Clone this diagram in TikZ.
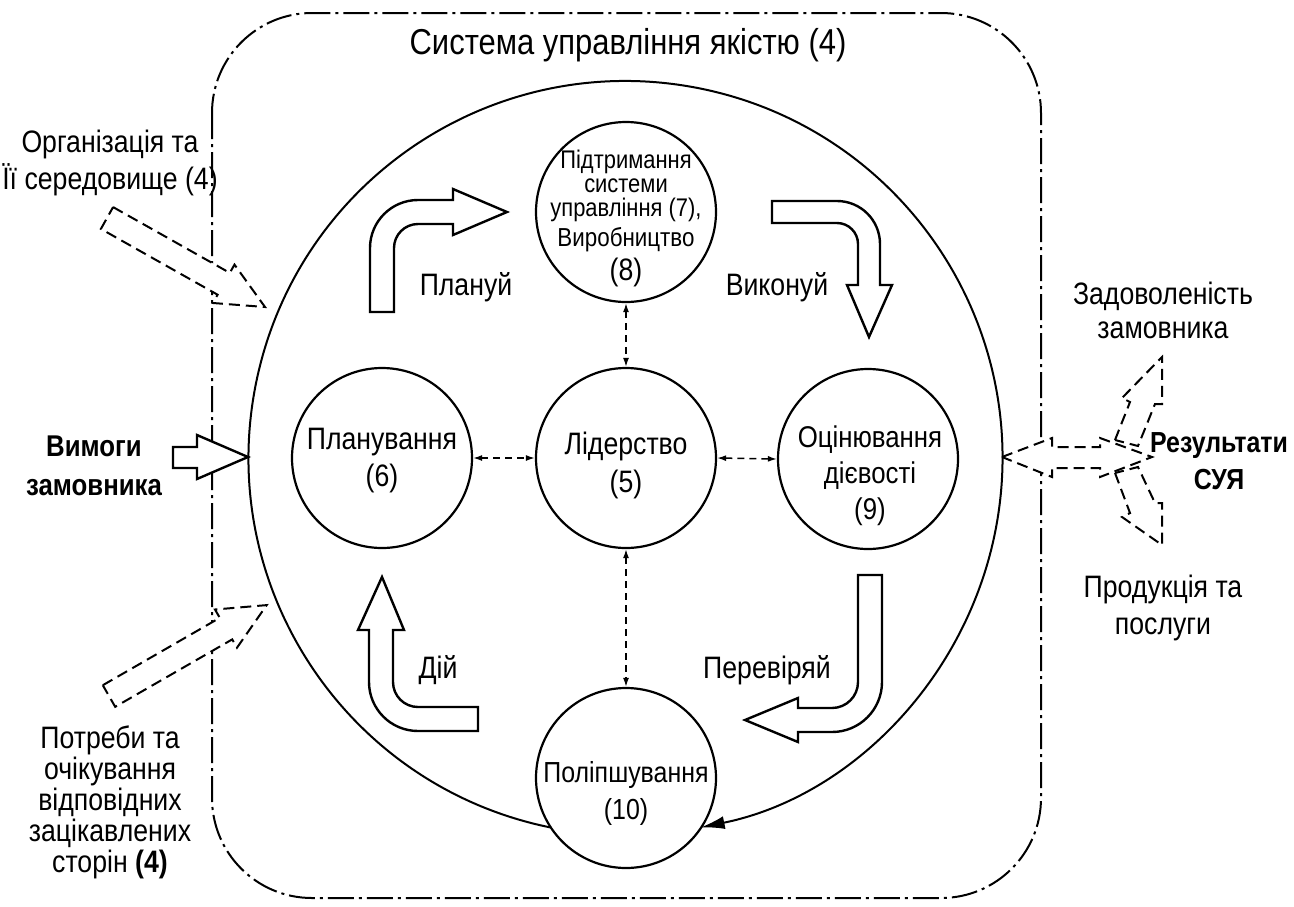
\documentclass[tikz,border=0pt]{standalone}
\usepackage{fontspec}
\setmainfont{Liberation Sans}[FakeStretch=0.86]
\usetikzlibrary{arrows.meta}
\begin{document}
\begin{tikzpicture}[x=1pt,y=-1pt,
  circ/.style={circle, draw, line width=2.2pt, minimum size=180pt, inner sep=0pt},
  lbl/.style={align=center, inner sep=0pt, font=\fontsize{31}{37}\selectfont},
  blockarrow/.style={draw, line width=2.4pt, fill=white, line join=miter},
  dasharrow/.style={draw, line width=2pt, fill=white, dash pattern=on 11pt off 6pt},
  link/.style={line width=1.5pt, dash pattern=on 7pt off 5pt, {Latex[length=9pt,width=6pt]}-{Latex[length=9pt,width=6pt]}},
  frame/.style={line width=2pt, dash pattern=on 26pt off 5pt on 3pt off 5pt},
  ring/.style={line width=2pt, -{Latex[length=24pt,width=13pt]}}
]
\useasboundingbox (0,0) rectangle (1294,906);

% outer frame
\draw[frame, rounded corners=100pt] (212,13) rectangle (1041,898);
\node[lbl, font=\fontsize{36}{40}\selectfont] (title) at (628,45) {Система управління якістю (4)};

% circles
\node[circ] (c8) at (626,212) {};
\node[circ] (c5) at (626,458) {};
\node[circ] (c6) at (382,458) {};
\node[circ] (c9) at (868,459) {};
\node[circ] (c10) at (626,778) {};

\node[lbl, font=\fontsize{25.5}{24}\selectfont] (t8a) at (626,186) {Підтримання\\системи\\управління (7),};
\node[lbl, font=\fontsize{26}{30}\selectfont] (t8b) at (626,240) {Виробництво};
\node[lbl] (t8c) at (626,272) {(8)};
\node[lbl, font=\fontsize{31}{38}\selectfont] (t5) at (626,465) {Лідерство\\(5)};
\node[lbl] (t6) at (382,461) {Планування\\(6)};
\node[lbl, font=\fontsize{30}{36}\selectfont] (t9) at (870,476) {Оцінювання\\дієвості\\(9)};
\node[lbl, font=\fontsize{29}{37}\selectfont] (t10) at (626,793) {Поліпшування\\(10)};

% big cycle
\draw[ring] (625.5,458) ++(101.5:377) arc[start angle=101.5,end angle=438.5,radius=377];

% dashed links
\draw[link] (c6.east) -- (c5.west);
\draw[link] (c5.east) -- (c9.west);
\draw[link] (c8.south) -- (c5.north);
\draw[link] (c5.south) -- (c10.north);

% PDCA block arrows
\draw[blockarrow] (370,312) -- (370,248) arc[start angle=180,end angle=270,radius=48]
  -- (453,200) -- (453,189) -- (507,212) -- (453,235) -- (453,224) -- (418,224)
  arc[start angle=270,end angle=180,radius=24] -- (394,312) -- cycle;
\draw[blockarrow] (772,201) -- (837,201) arc[start angle=-90,end angle=0,radius=43]
  -- (880,285) -- (892,285) -- (869,337) -- (847,285) -- (858,285) -- (858,244)
  arc[start angle=0,end angle=-90,radius=21] -- (772,223) -- cycle;
\draw[blockarrow] (478,707) -- (418,707) arc[start angle=90,end angle=180,radius=25]
  -- (393,630) -- (404,630) -- (382,577) -- (358,630) -- (369,630) -- (369,682)
  arc[start angle=180,end angle=90,radius=49] -- (478,731) -- cycle;
\draw[blockarrow] (858,575) -- (882,575) -- (882,682) arc[start angle=0,end angle=90,radius=50]
  -- (798,732) -- (798,742) -- (745,720) -- (798,698) -- (798,708) -- (832,708)
  arc[start angle=90,end angle=0,radius=26] -- cycle;

\node[lbl] (plan) at (466,287) {Плануй};
\node[lbl] (do) at (777,287) {Виконуй};
\node[lbl] (act) at (438,670) {Дій};
\node[lbl] (check) at (767,670) {Перевіряй};

% inputs
\draw[dasharrow] (113.1,207.1) -- (229.8,272.9) -- (234.5,264.6) -- (265,307) -- (212.9,303.0) -- (217.6,294.7) -- (100.9,228.9) -- cycle;
\draw[dasharrow] (102.8,685.2) -- (219.8,617.8) -- (215,609.5) -- (266.7,605.1) -- (237,647.7) -- (232.2,639.4) -- (115.2,706.8) -- cycle;
\draw[blockarrow] (173,447) -- (197,447) -- (197,435) -- (248,457) -- (197,479) -- (197,468) -- (173,468) -- cycle;

\node[lbl, font=\fontsize{31}{37}\selectfont] (org) at (110,163) {Організація та\\Її середовище (4)};
\node[lbl, font=\bfseries\fontsize{30}{39}\selectfont] (req) at (94,466) {Вимоги\\замовника};
\node[lbl, font=\fontsize{31}{31}\selectfont] (needs) at (110,802) {Потреби та\\очікування\\відповідних\\зацікавлених\\сторін \textbf{(4)}};

% outputs
\draw[dasharrow] (1002,457) -- (1052,438) -- (1052,447) -- (1100,447) -- (1100,438) -- (1152,457)
  -- (1100,477) -- (1100,468) -- (1052,468) -- (1052,477) -- cycle;
\draw[dasharrow] (1115,440) -- (1130,402) -- (1122,398) -- (1162,357) -- (1162,404) -- (1155,404) -- (1138,446) -- cycle;
\draw[dasharrow] (1115,473) -- (1130,513) -- (1122,517) -- (1162,545) -- (1162,503) -- (1155,503) -- (1138,467) -- cycle;

\node[lbl, font=\fontsize{31}{34}\selectfont] (sat) at (1163,310) {Задоволеність\\замовника};
\node[lbl, font=\bfseries\fontsize{29}{37}\selectfont] (res) at (1219,461) {Результати\\СУЯ};
\node[lbl, font=\fontsize{31}{37}\selectfont] (prod) at (1163,608) {Продукція та\\послуги};
\end{tikzpicture}
\end{document}
